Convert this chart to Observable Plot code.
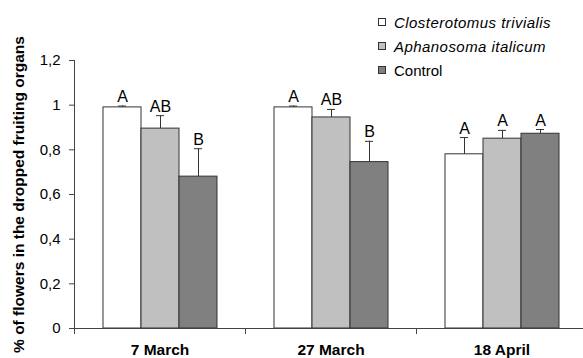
<!DOCTYPE html>
<html>
<head>
<meta charset="utf-8">
<script src="https://cdn.jsdelivr.net/npm/d3@7"></script>
<script src="https://cdn.jsdelivr.net/npm/@observablehq/plot@0.6"></script>
<style>
  html, body { margin: 0; padding: 0; background: #fff; overflow: hidden; }
  #wrap { position: relative; width: 583px; height: 358px; font-family: "Liberation Sans", Arial, sans-serif; }
  #legend { position: absolute; left: 378px; top: 10px; font-size: 15px; color: #000; }
  .row { display: flex; align-items: center; height: 24px; white-space: nowrap; }
  .sw { width: 8px; height: 8px; border: 1px solid #333; box-sizing: border-box; margin-right: 8px; }
  .it { font-style: italic; letter-spacing: 0.45px; }
  g[aria-label="y-axis label"] text { font-weight: bold; font-size: 15.5px; }
  g[aria-label="fx-axis tick label"] text { font-weight: bold; font-size: 15.5px; }
  g[aria-label="y-axis tick label"] text { font-size: 15px; }
</style>
</head>
<body>
<div id="wrap"></div>
<script>
const dates = ["7 March", "27 March", "18 April"];
const series = ["Closterotomus trivialis", "Aphanosoma italicum", "Control"];
const closterotomus = [0.99, 0.99, 0.78];
const aphanosoma = [0.895, 0.945, 0.85];
const control = [0.68, 0.745, 0.872];
const errClosterotomus = [0.006, 0.006, 0.075];
const errAphanosoma = [0.058, 0.036, 0.037];
const errControl = [0.125, 0.093, 0.019];
const lettersClosterotomus = ["A", "A", "A"];
const lettersAphanosoma = ["AB", "AB", "A"];
const lettersControl = ["B", "B", "A"];
const yTicks = [0, 0.2, 0.4, 0.6, 0.8, 1, 1.2];
const yTitle = "% of flowers in the dropped fruiting organs";
const colors = ["#ffffff", "#c0c0c0", "#808080"];

const valuesBySeries = [closterotomus, aphanosoma, control];
const errBySeries = [errClosterotomus, errAphanosoma, errControl];
const lettersBySeries = [lettersClosterotomus, lettersAphanosoma, lettersControl];
const rows = [];
dates.forEach((date, i) => series.forEach((s, j) => rows.push({
  date, series: s, value: valuesBySeries[j][i], err: errBySeries[j][i], letter: lettersBySeries[j][i]
})));

const W = 583, H = 358, mT = 60, mB = 30, mL = 73, mR = -5;
const ink = "#333";
const axisInk = "#444";

const chart = Plot.plot({
  width: W, height: H,
  marginTop: mT, marginBottom: mB, marginLeft: mL, marginRight: mR,
  style: { fontFamily: '"Liberation Sans", Arial, sans-serif', fontSize: "15px", color: "#000", background: "#fff", overflow: "hidden" },
  fx: { domain: dates, padding: 0, axis: null, label: null },
  x: { domain: series, paddingInner: 0, paddingOuter: 0.746, axis: null },
  y: { domain: [0, 1.2], axis: null },
  color: { domain: series, range: colors },
  marks: [
    Plot.barY(rows, { fx: "date", x: "series", y: "value", fill: "series", stroke: ink, strokeWidth: 1 }),
    Plot.ruleX(rows, { fx: "date", x: "series", y1: "value", y2: d => d.value + d.err, stroke: ink, strokeWidth: 1 }),
    Plot.tickY(rows, { fx: "date", x: "series", y: d => d.value + d.err, stroke: ink, strokeWidth: 1, insetLeft: 15, insetRight: 15 }),
    Plot.text(rows, { fx: "date", x: "series", y: d => d.value + d.err, text: "letter", lineAnchor: "bottom", dy: -4, fontSize: 16, fill: "#000" }),
    Plot.ruleY([0], { stroke: axisInk, strokeWidth: 1 }),
    Plot.frame({ anchor: "left", insetTop: H - mT - mB, insetBottom: -5, stroke: axisInk }),
    Plot.frame({ anchor: "left", facet: "super", stroke: axisInk }),
    Plot.axisY(yTicks, {
      anchor: "left", tickSize: 5, tickPadding: 9, stroke: axisInk,
      tickFormat: d => String(d).replace(".", ","),
      label: yTitle, labelAnchor: "center", labelOffset: 62, labelArrow: false
    }),
    Plot.axisFx({ anchor: "bottom", tickSize: 0, tickPadding: 15, label: null })
  ]
});

const wrap = document.getElementById("wrap");
wrap.appendChild(chart);

const legend = document.createElement("div");
legend.id = "legend";
series.forEach((s, j) => {
  const row = document.createElement("div");
  row.className = "row";
  const sw = document.createElement("span");
  sw.className = "sw";
  sw.style.background = colors[j];
  const lab = document.createElement("span");
  lab.textContent = s;
  if (j < 2) lab.className = "it";
  row.appendChild(sw);
  row.appendChild(lab);
  legend.appendChild(row);
});
wrap.appendChild(legend);
</script>
</body>
</html>
